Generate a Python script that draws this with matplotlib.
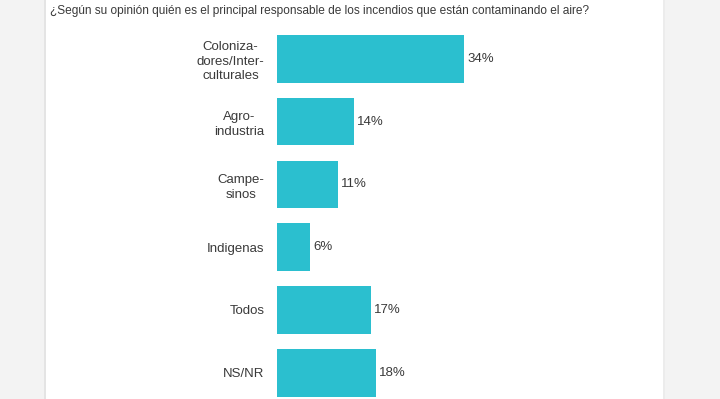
import matplotlib
matplotlib.use('Agg')
import matplotlib.pyplot as plt
from matplotlib.patches import Rectangle

plt.rcParams['font.family'] = ['Liberation Sans', 'DejaVu Sans']

# data
categories = ["Coloniza-\ndores/Inter-\nculturales", "Agro-\nindustria", "Campe-\nsinos",
              "Indigenas", "Todos", "NS/NR"]
values = [34, 14, 11, 6, 17, 18]
title = "¿Según su opinión quién es el principal responsable de los incendios que están contaminando el aire?"

W, H = 720, 399
fig = plt.figure(figsize=(W / 100, H / 100), dpi=100, facecolor='#f3f3f3')

# white card in the middle with soft edges
fig.patches.append(Rectangle((44 / W, 0), 2 / W, 1, transform=fig.transFigure,
                             facecolor='#e4e4e4', edgecolor='none', zorder=-2))
fig.patches.append(Rectangle((663 / W, 0), 2 / W, 1, transform=fig.transFigure,
                             facecolor='#ececec', edgecolor='none', zorder=-2))
fig.patches.append(Rectangle((46 / W, 0), 617 / W, 1, transform=fig.transFigure,
                             facecolor='white', edgecolor='none', zorder=-1))

fig.text(50 / W, 1 - 11 / H, title, fontsize=8.6, color='#3a3a3a', va='center', ha='left')

# axes placed so that bars start at x=277 px, 5.5 px per percent
px_per_pct = 5.5
left, right = 277, 663
top, pitch = 27.4, 62.8
bottom = top + pitch * len(categories)
ax = fig.add_axes([left / W, (H - bottom) / H, (right - left) / W, (bottom - top) / H])
ax.set_facecolor('none')
ax.set_xlim(0, (right - left) / px_per_pct)
ax.set_ylim(len(categories) - 0.5, -0.5)

ypos = list(range(len(categories)))
ax.barh(ypos, values, height=0.76, color='#2bbfcf', edgecolor='none')
for y, v in zip(ypos, values):
    ax.text(v + 0.6, y, f"{v}%", va='center', ha='left', fontsize=9.5, color='#3a3a3a')

ax.set_yticks(ypos)
ax.set_yticklabels(categories, fontsize=9.5, color='#3a3a3a', multialignment='center',
                   linespacing=1.3)
ax.tick_params(axis='y', length=0, pad=9)
ax.set_xticks([])
for s in ax.spines.values():
    s.set_visible(False)

fig.savefig('out.png', dpi=100, facecolor=fig.get_facecolor())
